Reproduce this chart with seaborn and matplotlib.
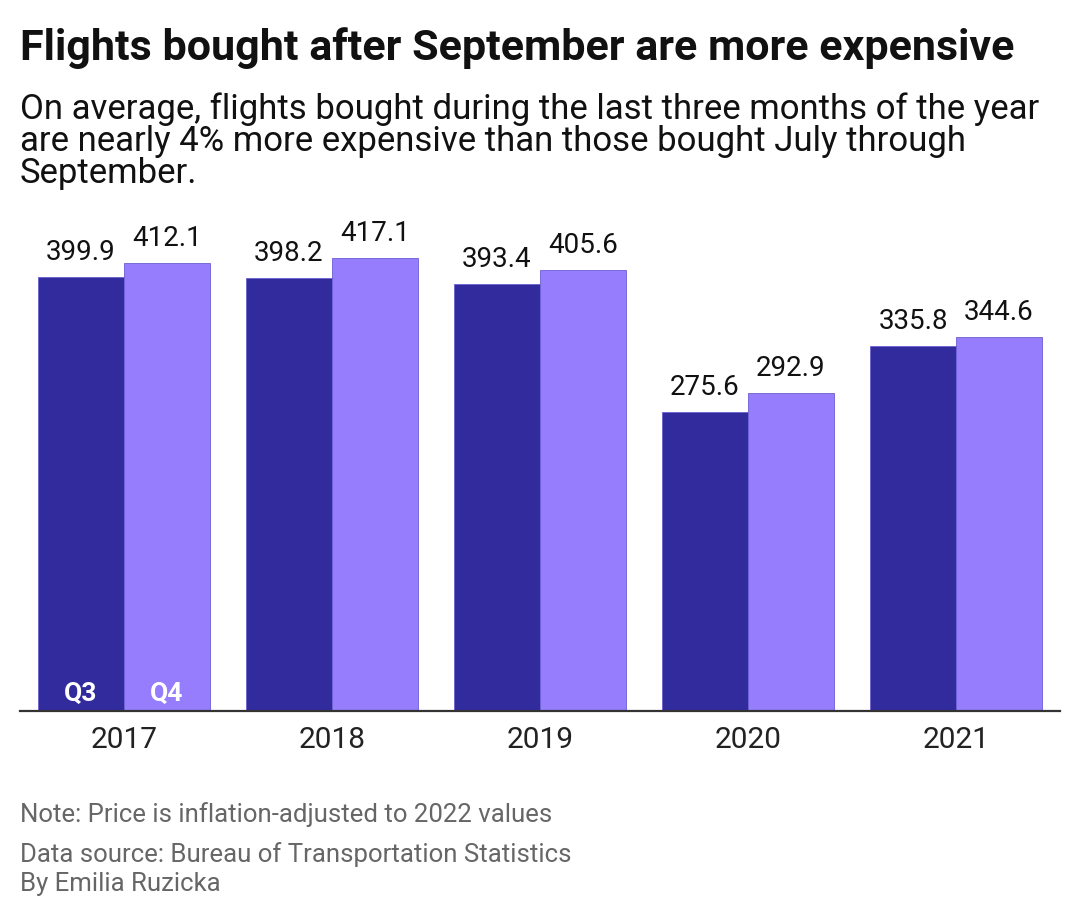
import matplotlib.pyplot as plt
import pandas as pd
import seaborn as sns

years = ["2017", "2018", "2019", "2020", "2021"]
q3_price = [399.9, 398.2, 393.4, 275.6, 335.8]
q4_price = [412.1, 417.1, 405.6, 292.9, 344.6]
quarters = ["Q3", "Q4"]
colors = {"Q3": "#312b9e", "Q4": "#957dfd"}

title = "Flights bought after September are more expensive"
subtitle = [
    "On average, flights bought during the last three months of the year",
    "are nearly 4% more expensive than those bought July through",
    "September.",
]
footer = [
    "Note: Price is inflation-adjusted to 2022 values",
    "Data source: Bureau of Transportation Statistics",
    "By Emilia Ruzicka",
]

df = pd.DataFrame({
    "year": years * 2,
    "quarter": ["Q3"] * len(years) + ["Q4"] * len(years),
    "price": q3_price + q4_price,
})

sns.set_style("white")
plt.rcParams["font.family"] = ["Roboto", "DejaVu Sans"]

fig = plt.figure(figsize=(10.8, 9.18), dpi=100)
ax = fig.add_axes([0.0185, 0.2255, 0.963, 0.5348])

sns.barplot(data=df, x="year", y="price", hue="quarter", hue_order=quarters,
            palette=colors, width=0.827, saturation=1, ax=ax, legend=False,
            edgecolor="#6a5fd0", linewidth=0.6)

for cont in ax.containers:
    ax.bar_label(cont, labels=[f"{v:.1f}" for v in cont.datavalues],
                 padding=8, fontsize=20, color="#111111")

# quarter labels inside the first group
for cont, q in zip(ax.containers, quarters):
    bar = cont.patches[0]
    ax.text(bar.get_x() + bar.get_width() / 2, 5, q, ha="center", va="bottom",
            color="white", fontsize=19, fontweight="bold")

ax.set_xlim(-0.5, 4.5)
ax.set_ylim(0, 452)
ax.set_xlabel("")
ax.set_ylabel("")
ax.set_yticks([])
for side in ["left", "right", "top"]:
    ax.spines[side].set_visible(False)
ax.spines["bottom"].set_color("#333333")
ax.spines["bottom"].set_linewidth(1.6)
ax.tick_params(axis="x", length=0, labelsize=21.5, colors="#222222", pad=11)

fig.text(0.0185, 0.9346, title, fontsize=31, fontweight="bold",
         color="#111111", va="baseline")
for y, line in zip([0.8700, 0.8352, 0.8003], subtitle):
    fig.text(0.0185, y, line, fontsize=25, color="#111111", va="baseline")
for y, line in zip([0.1046, 0.0610, 0.0295], footer):
    fig.text(0.0185, y, line, fontsize=18.5, color="#666666", va="baseline")

fig.savefig("out.png", dpi=100)
